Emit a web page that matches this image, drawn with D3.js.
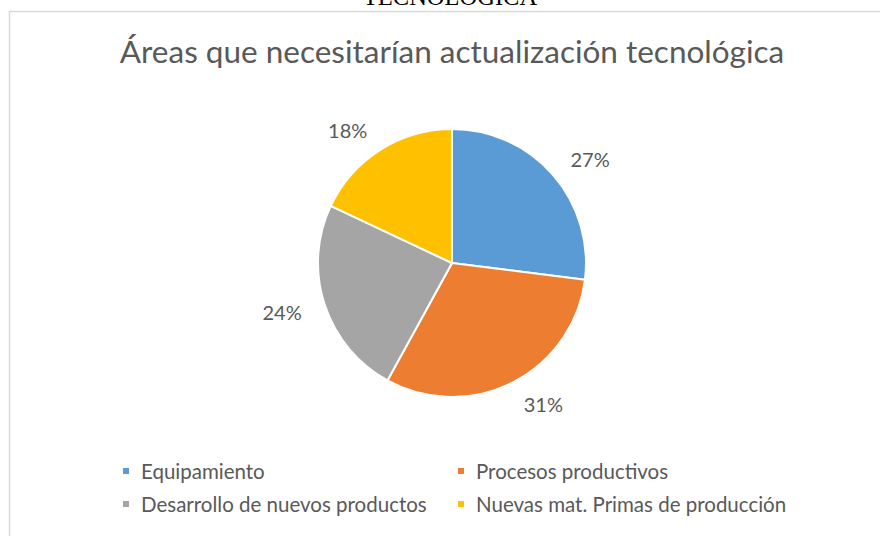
<!DOCTYPE html>
<html>
<head>
<meta charset="utf-8">
<script src="https://cdn.jsdelivr.net/npm/d3@7"></script>
<style>
  html, body { margin: 0; padding: 0; background: #fff; }
  svg { display: block; }
</style>
</head>
<body>
<svg id="chart" width="880" height="536"></svg>
<script>
// Data
const categories = ["Equipamiento", "Procesos productivos", "Desarrollo de nuevos productos", "Nuevas mat. Primas de producción"];
const shares = [27, 31, 24, 18];
const colors = ["#5B9BD5", "#ED7D31", "#A5A5A5", "#FFC000"];
const chartTitle = "Áreas que necesitarían actualización tecnológica";
const captionTail = "TECNOLÓGICA";

const W = 880, H = 536;
const svg = d3.select("#chart");
const textColor = "#595959";
const uiFont = "Lato, 'Open Sans', sans-serif";

// Caption from the page above the chart frame (partly cut by the top edge)
svg.append("text")
  .attr("x", 450).attr("y", 5)
  .attr("text-anchor", "middle")
  .attr("font-family", "'Liberation Serif', 'DejaVu Serif', serif")
  .attr("font-size", 24.5)
  .attr("fill", "#000")
  .text(captionTail);

// Chart frame
svg.append("rect")
  .attr("x", 9.5).attr("y", 11.5)
  .attr("width", W + 10).attr("height", H + 10)
  .attr("fill", "#fff")
  .attr("stroke", "#d9d9d9")
  .attr("stroke-width", 1.5);

// Title
svg.append("text")
  .attr("x", 452).attr("y", 63)
  .attr("text-anchor", "middle")
  .attr("font-family", uiFont)
  .attr("font-size", 31.5)
  .attr("fill", textColor)
  .text(chartTitle);

// Pie
const cx = 452, cy = 263, r = 134;
const data = categories.map((c, i) => ({ name: c, value: shares[i], color: colors[i] }));
const pie = d3.pie().value(d => d.value).sort(null);
const arcs = pie(data);
const arc = d3.arc().innerRadius(0).outerRadius(r);
// Anchor ring for the outside percentage labels
const labelArc = d3.arc().innerRadius(r + 24).outerRadius(r + 24);

const g = svg.append("g").attr("transform", `translate(${cx},${cy})`);
g.selectAll("path.slice")
  .data(arcs)
  .join("path")
  .attr("class", "slice")
  .attr("d", arc)
  .attr("fill", d => d.data.color)
  .attr("stroke", "#fff")
  .attr("stroke-width", 2)
  .attr("stroke-linejoin", "round");

// Percentage labels: start-aligned on the right half, end-aligned on the left half
g.selectAll("text.pct")
  .data(arcs)
  .join("text")
  .attr("class", "pct")
  .attr("font-family", uiFont)
  .attr("font-size", 20)
  .attr("fill", textColor)
  .attr("dominant-baseline", "central")
  .attr("x", d => labelArc.centroid(d)[0])
  .attr("y", d => labelArc.centroid(d)[1])
  .attr("text-anchor", d => ((d.startAngle + d.endAngle) / 2 < Math.PI ? "start" : "end"))
  .text(d => d.data.value + "%");

// Legend: two columns, two rows
const legendCols = [126, 461];
const legendRows = [471, 504];
const legend = svg.append("g");
data.forEach((d, i) => {
  const lx = legendCols[i % 2], ly = legendRows[Math.floor(i / 2)];
  legend.append("rect")
    .attr("x", lx - 3).attr("y", ly - 3)
    .attr("width", 6).attr("height", 6)
    .attr("fill", d.color);
  legend.append("text")
    .attr("x", lx + 15).attr("y", ly)
    .attr("dominant-baseline", "central")
    .attr("font-family", uiFont)
    .attr("font-size", 20.5)
    .attr("fill", textColor)
    .text(d.name);
});
</script>
</body>
</html>
